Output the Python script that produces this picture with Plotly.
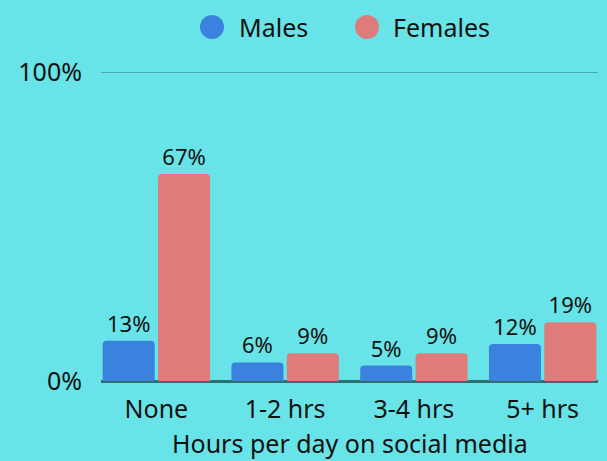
import plotly.graph_objects as go

categories = ["None", "1-2 hrs", "3-4 hrs", "5+ hrs"]
males = [13, 6, 5, 12]
females = [67, 9, 9, 19]
series_names = ["Males", "Females"]
y_tick_vals = [0, 100]
y_tick_text = ["0%", "100%"]
x_title = "Hours per day on social media"

BLUE = "#3B82DE"
SALMON = "#DE7C7B"
BG = "#68E4E8"
FONT = "Noto Sans"
TXT = "#111111"

fig = go.Figure()
for name, vals, col in [(series_names[0], males, BLUE), (series_names[1], females, SALMON)]:
    fig.add_trace(go.Bar(
        x=categories, y=vals, name=name, marker=dict(color=col, cornerradius=4, line=dict(width=0)),
        text=[f"{v}%" for v in vals], textposition="outside", cliponaxis=False,
        textfont=dict(size=22, color=TXT, family=FONT), showlegend=False,
    ))

# custom legend (circle swatches + labels)
legend_items = [(series_names[0], BLUE, 212, 237), (series_names[1], SALMON, 367, 391)]
for name, col, cx, tx in legend_items:
    fig.add_shape(type="circle", xref="paper", yref="paper",
                  x0=(cx - 12 - 101) / 497, x1=(cx + 12 - 101) / 497,
                  y0=(381 - 27 - 12) / 309, y1=(381 - 27 + 12) / 309,
                  fillcolor=col, line=dict(width=0), layer="above")
    fig.add_annotation(text=name, xref="paper", yref="paper",
                       x=(tx - 101) / 497, y=(381 - 27) / 309, xanchor="left", yanchor="middle",
                       showarrow=False, font=dict(size=25, family=FONT, color=TXT))

# x-axis title
fig.add_annotation(text=x_title, xref="paper", yref="paper",
                   x=(350 - 101) / 497, y=(381 - 443) / 309, xanchor="center", yanchor="middle",
                   showarrow=False, font=dict(size=25, family=FONT, color=TXT))

# gridline at 100%
fig.add_shape(type="line", xref="paper", yref="y", x0=0, x1=1, y0=100, y1=100,
              line=dict(color="#4BA9AB", width=2), layer="below")

fig.update_layout(
    width=607, height=461,
    paper_bgcolor=BG, plot_bgcolor=BG,
    margin=dict(l=101, r=9, t=72, b=80, autoexpand=False),
    barmode="group", bargap=0.14, bargroupgap=0.06,
    font=dict(family=FONT, color=TXT, size=25),
    showlegend=False,
)
fig.update_xaxes(range=[-0.43, 3.43], showgrid=False, showline=False, zeroline=False,
                 ticks="", tickfont=dict(size=25, family=FONT, color=TXT), automargin=False,
                 ticklabelstandoff=11)
fig.update_yaxes(range=[0, 100], tickvals=y_tick_vals, ticktext=y_tick_text,
                 showgrid=False, automargin=False,
                 zeroline=True, zerolinecolor="#2E7072", zerolinewidth=3,
                 showline=False, ticks="", tickfont=dict(size=25, family=FONT, color=TXT),
                 ticklabelstandoff=18)

fig.write_html("out.html", config={"displayModeBar": False},
               post_script="document.body.style.margin='0';document.body.style.background='" + BG + "';")
